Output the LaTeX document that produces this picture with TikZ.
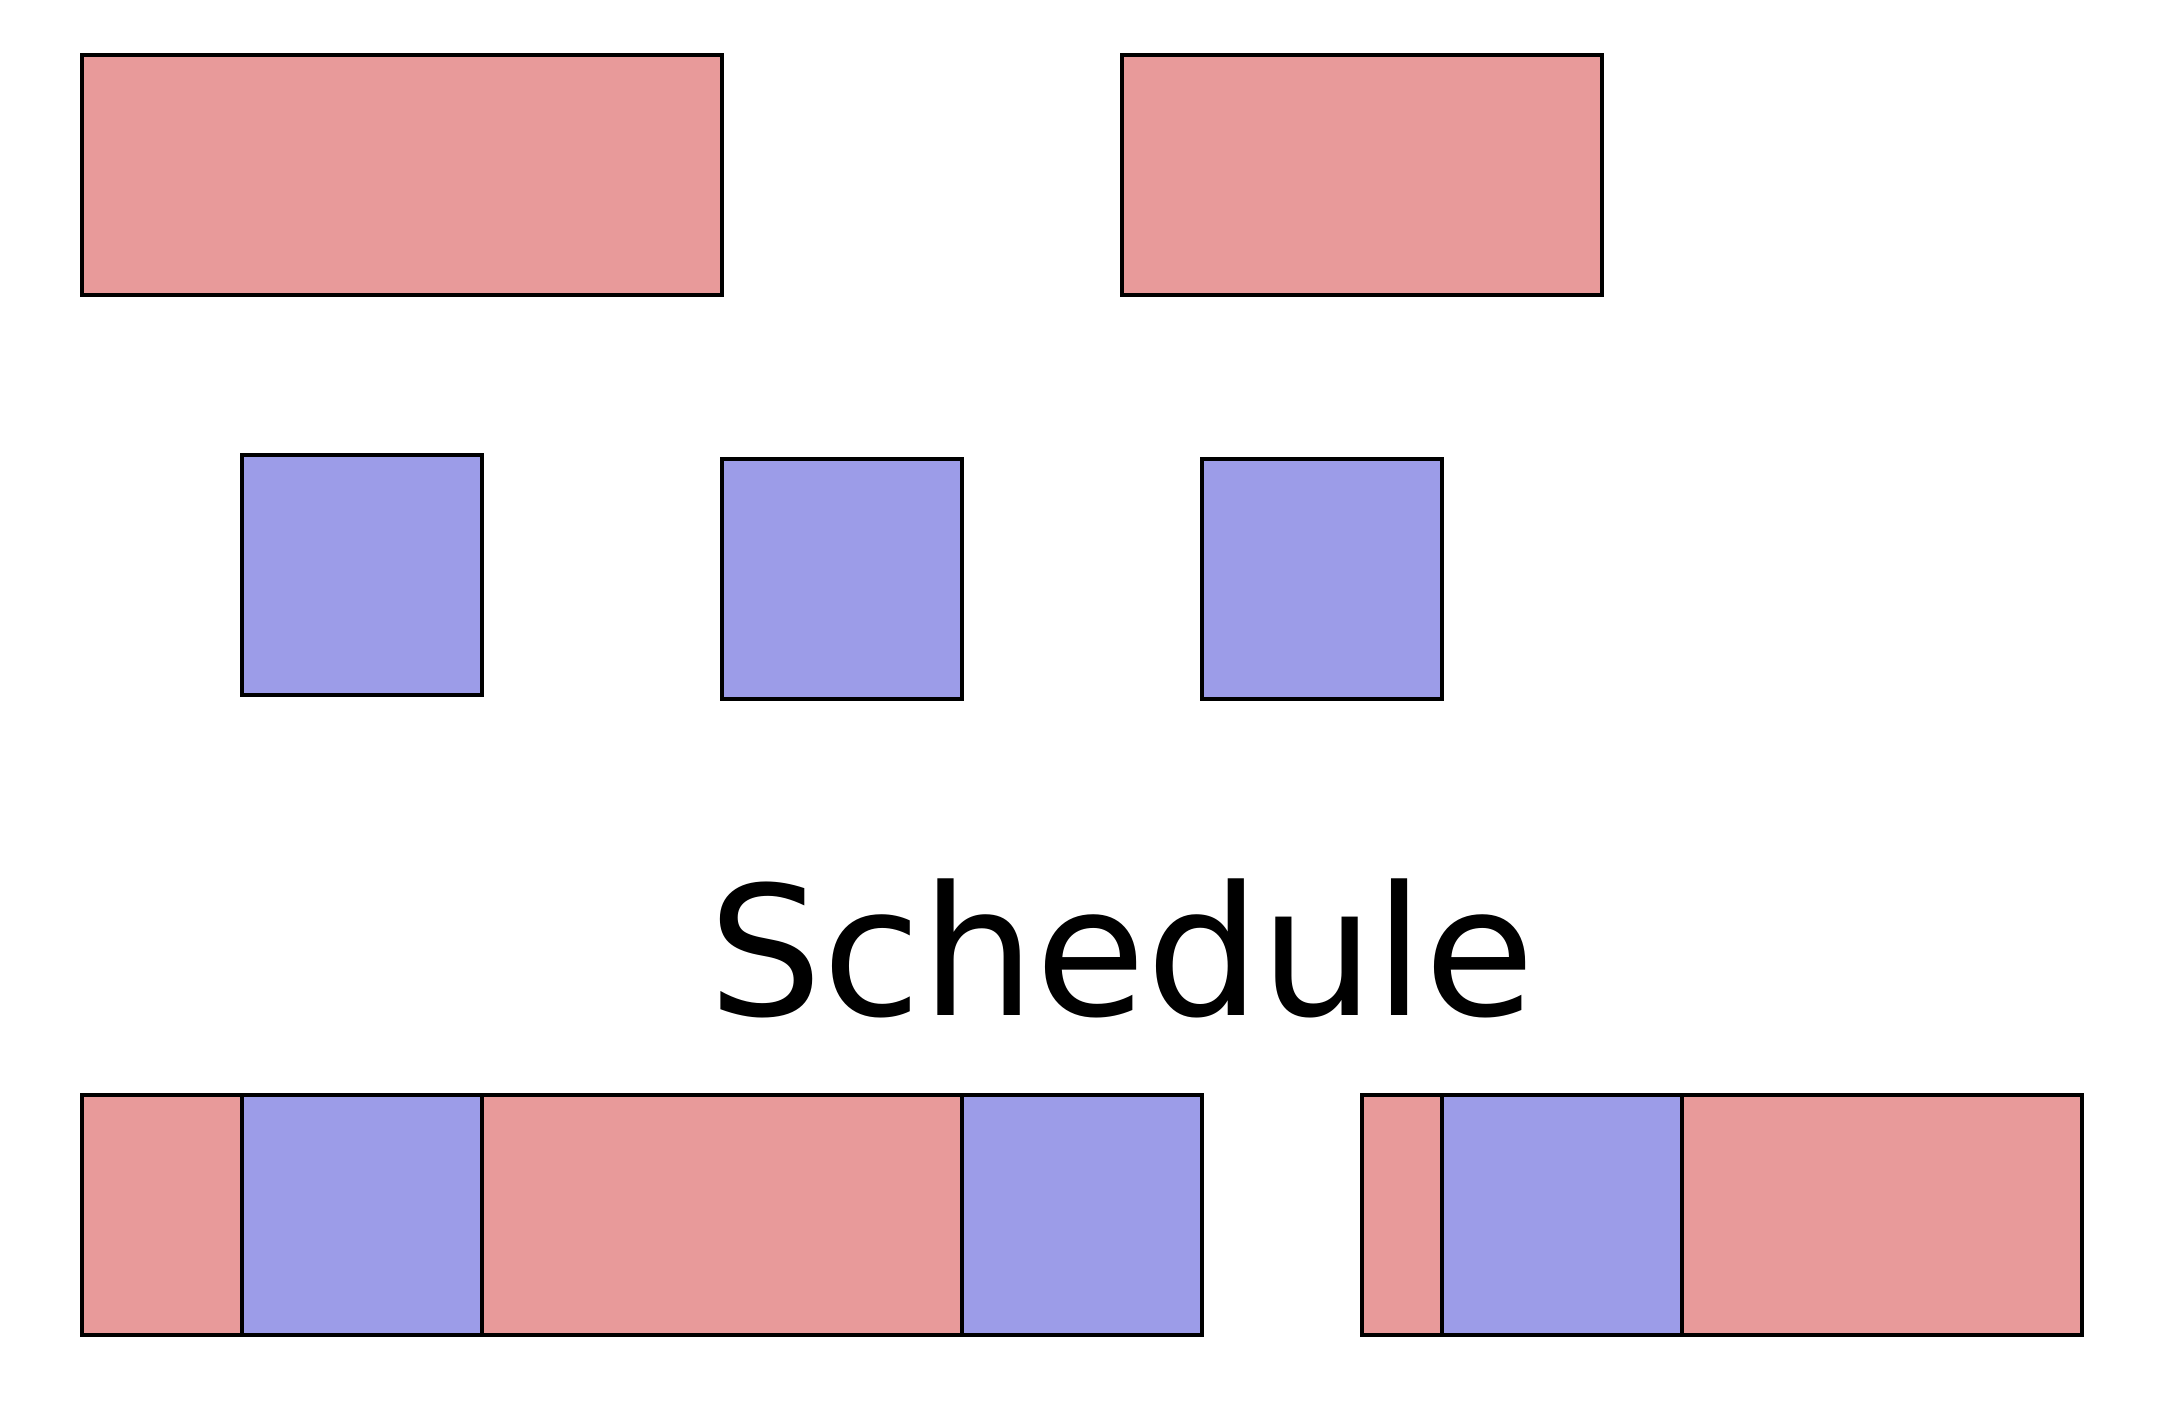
\documentclass[tikz,border=0pt]{standalone}
\usepackage{fontspec}
\newfontfamily\dejavu{DejaVu Sans}
\definecolor{taskred}{RGB}{232,154,154}
\definecolor{taskblue}{RGB}{156,156,232}
\tikzset{
  cell/.style={draw=black, line width=1.42pt, inner sep=0pt, outer sep=0pt, anchor=north west},
  redcell/.style={cell, fill=taskred},
  bluecell/.style={cell, fill=taskblue},
}
\newcommand{\cellbox}[6]{% style, name, x, y, w, h
  \node[#1, minimum width=#5cm, minimum height=#6cm] (#2) at (#3,#4) {};}
\begin{document}
\begin{tikzpicture}
\useasboundingbox (-1.025,0.69) rectangle (26.0,-17.035);
% top row: red tasks
\cellbox{redcell}{r1}{0}{0}{8}{3}
\cellbox{redcell}{r2}{13}{0}{6}{3}
% middle row: blue tasks
\cellbox{bluecell}{b1}{2}{-5}{3}{3}
\cellbox{bluecell}{b2}{8}{-5.05}{3}{3}
\cellbox{bluecell}{b3}{14}{-5.05}{3}{3}
% label
\node[anchor=base, inner sep=0pt, font=\dejavu\fontsize{64}{64}\selectfont] (lbl) at (13,-12) {Schedule};
% schedule row
\cellbox{redcell}{s1}{0}{-13}{2}{3}
\cellbox{bluecell}{s2}{2}{-13}{3}{3}
\cellbox{redcell}{s3}{5}{-13}{6}{3}
\cellbox{bluecell}{s4}{11}{-13}{3}{3}
\cellbox{redcell}{s5}{16}{-13}{1}{3}
\cellbox{bluecell}{s6}{17}{-13}{3}{3}
\cellbox{redcell}{s7}{20}{-13}{5}{3}
\end{tikzpicture}
\end{document}
